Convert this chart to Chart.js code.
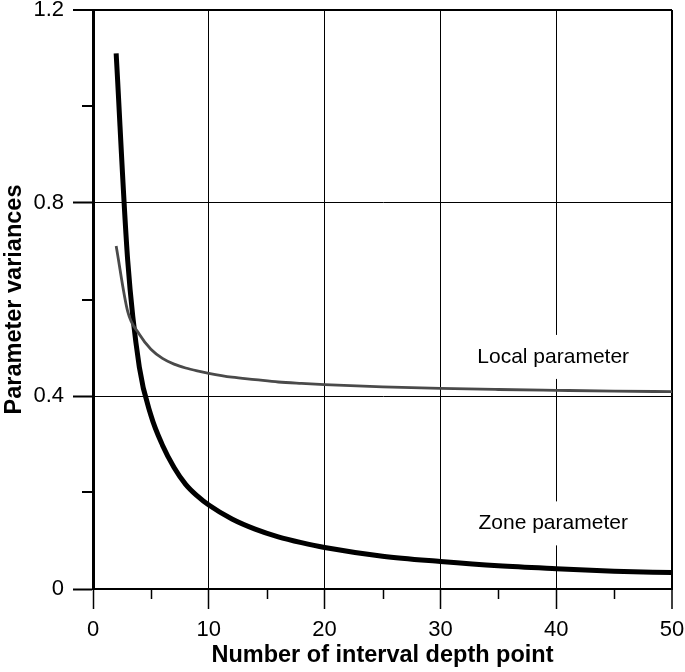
<!DOCTYPE html>
<html>
<head>
<meta charset="utf-8">
<script src="https://cdn.jsdelivr.net/npm/chart.js@4.4.0/dist/chart.umd.min.js"></script>
<style>
  body { margin: 0; background: #fff; }
  #wrap { width: 685px; height: 672px; }
</style>
</head>
<body>
<div id="wrap"><canvas id="varChart" width="685" height="672"></canvas></div>
<script>
// values
const depthPoints = [2, 3, 4, 5, 6, 7, 8, 9, 10, 12, 14, 16, 18, 20, 25, 30, 35, 40, 45, 50]
const zoneVariance = [1.11, 0.68, 0.46, 0.36, 0.298, 0.252, 0.217, 0.193, 0.174, 0.145, 0.124, 0.108, 0.096, 0.086, 0.068, 0.057, 0.048, 0.042, 0.037, 0.034]
const localVariance = [0.711, 0.575, 0.528, 0.497, 0.478, 0.466, 0.458, 0.452, 0.447, 0.439, 0.434, 0.429, 0.426, 0.4235, 0.419, 0.4157, 0.4135, 0.4118, 0.4102, 0.409]

const xTicks = [0, 10, 20, 30, 40, 50]
const xMinorTicks = [5, 15, 25, 35, 45]
const yTicks = [0, 0.4, 0.8, 1.2]
const yTickLabels = ['0', '0.4', '0.8', '1.2']
const yMinorTicks = [0.2, 0.6, 1.0]

const curveLabels = ['Local parameter', 'Zone parameter']
const curveLabelX = [40, 40]
const curveLabelY = [0.481, 0.136]

const FONT = "'Liberation Sans', Arial, sans-serif"

function toPoints(ys) {
    return depthPoints.map((x, i) => ({ x: x, y: ys[i] }))
}

// minor tick marks + curve labels (labels cut the x=40 grid line)
const extrasPlugin = {
    id: 'extras',
    beforeDatasetsDraw(chart) {
        const ctx = chart.ctx
        const xs = chart.scales.x
        const ys = chart.scales.y
        ctx.save()
        ctx.font = '21px ' + FONT
        ctx.textAlign = 'center'
        ctx.textBaseline = 'middle'
        curveLabels.forEach((txt, i) => {
            const px = xs.getPixelForValue(curveLabelX[i])
            const py = ys.getPixelForValue(curveLabelY[i])
            const w = ctx.measureText(txt).width
            ctx.fillStyle = '#fff'
            ctx.fillRect(px - w / 2 - 4, py - 22, w + 8, 44)
            ctx.fillStyle = '#000'
            ctx.fillText(txt, px - 3, py)
        })
        ctx.restore()
    },
    afterDraw(chart) {
        const ctx = chart.ctx
        const xs = chart.scales.x
        const ys = chart.scales.y
        const area = chart.chartArea
        ctx.save()
        ctx.strokeStyle = '#000'
        ctx.lineWidth = 1.5
        ctx.beginPath()
        xMinorTicks.forEach(v => {
            const px = Math.round(xs.getPixelForValue(v)) + 0.5
            ctx.moveTo(px, area.bottom)
            ctx.lineTo(px, area.bottom + 10)
        })
        ctx.stroke()
        ctx.lineWidth = 2
        ctx.beginPath()
        yMinorTicks.forEach(v => {
            const py = Math.round(ys.getPixelForValue(v))
            ctx.moveTo(area.left - 11, py)
            ctx.lineTo(area.left, py)
        })
        ctx.stroke()
        ctx.restore()
    }
}

const ctx = document.getElementById('varChart').getContext('2d')
const varChart = new Chart(ctx, {
    type: 'line',
    data: {
        datasets: [
            {
                label: 'Local parameter',
                data: toPoints(localVariance),
                borderColor: '#4a4a4a',
                borderWidth: 2.8,
                pointRadius: 0,
                cubicInterpolationMode: 'monotone',
                fill: false,
            },
            {
                label: 'Zone parameter',
                data: toPoints(zoneVariance),
                borderColor: '#000',
                borderWidth: 5,
                pointRadius: 0,
                cubicInterpolationMode: 'monotone',
                fill: false,
            },
        ]
    },
    options: {
        responsive: false,
        animation: false,
        layout: { padding: { top: 10, right: 13, left: 0, bottom: 0 } },
        plugins: {
            legend: { display: false },
            tooltip: { enabled: false },
        },
        scales: {
            x: {
                type: 'linear',
                min: 0,
                max: 50,
                afterBuildTicks: (scale) => { scale.ticks = xTicks.map(v => ({ value: v })) },
                afterFit: (scale) => {
                    scale.height = 83
                    scale.paddingLeft = 0
                    scale.paddingRight = 0
                },
                ticks: {
                    color: '#000',
                    font: { family: FONT, size: 22 },
                    padding: 8,
                    maxRotation: 0,
                },
                grid: {
                    color: '#000',
                    lineWidth: (c) => (c.tick && c.tick.value === 50 ? 2 : 1),
                    drawTicks: true,
                    tickLength: 20,
                    tickColor: '#000',
                    tickWidth: 1.5,
                },
                border: { display: true, color: '#000', width: 2 },
                title: {
                    display: true,
                    text: 'Number of interval depth point',
                    color: '#000',
                    font: { family: FONT, size: 23.5, weight: 'bold' },
                    padding: { top: 0, bottom: 2 },
                },
            },
            y: {
                type: 'linear',
                min: 0,
                max: 1.2,
                afterBuildTicks: (scale) => { scale.ticks = yTicks.map(v => ({ value: v })) },
                afterFit: (scale) => {
                    scale.width = 93
                    scale.paddingTop = 0
                    scale.paddingBottom = 0
                },
                ticks: {
                    color: '#000',
                    font: { family: FONT, size: 22 },
                    padding: 9,
                    callback: (v) => yTickLabels[yTicks.indexOf(v)],
                },
                grid: {
                    color: '#000',
                    lineWidth: (c) => (c.tick && c.tick.value === 1.2 ? 2 : 1),
                    drawTicks: true,
                    tickLength: 20,
                    tickColor: '#000',
                    tickWidth: 2,
                },
                border: { display: true, color: '#000', width: 3 },
                title: {
                    display: true,
                    text: 'Parameter variances',
                    color: '#000',
                    font: { family: FONT, size: 23.5, weight: 'bold' },
                    padding: { top: 0, bottom: 0 },
                },
            },
        },
    },
    plugins: [extrasPlugin],
})
</script>
</body>
</html>
